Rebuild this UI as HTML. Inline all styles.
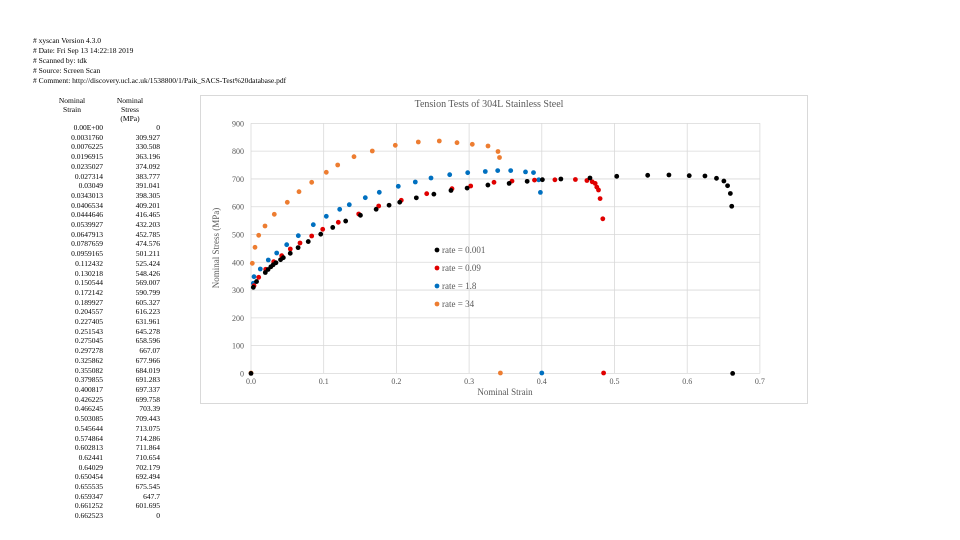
<!DOCTYPE html>
<html><head><meta charset="utf-8"><style>
body{margin:0;width:960px;height:540px;background:#fff;overflow:hidden;position:relative;font-family:"Liberation Serif",serif;}
.h{position:absolute;left:33px;font-size:7.5px;color:#000;line-height:10px;}
.c{position:absolute;font-size:7.5px;line-height:9.7px;color:#000;text-align:right;overflow:hidden;white-space:nowrap;}
.hd{position:absolute;font-size:7.5px;line-height:9px;text-align:center;}
</style></head><body>
<div class="h" style="top:36px">
# xyscan Version 4.3.0<br># Date: Fri Sep 13 14:22:18 2019<br># Scanned by: tdk<br># Source: Screen Scan<br># Comment: http://discovery.ucl.ac.uk/1538800/1/Paik_SACS-Test%20database.pdf
</div>
<div class="hd" style="left:42px;top:96px;width:60px">Nominal<br>Strain</div>
<div class="hd" style="left:100px;top:96px;width:60px">Nominal<br>Stress<br>(MPa)</div>
<div class="c" id="c1" style="left:40px;top:123px;width:63px"></div>
<div class="c" id="c2" style="left:104px;top:123px;width:56px"></div>
<svg id="s" width="960" height="540" style="position:absolute;left:0;top:0" font-family="Liberation Serif, serif"></svg>
<script>
var S=[0,0.00317604,0.0076225,0.0196915,0.0235027,0.027314,0.03049,0.0343013,0.0406534,0.0444646,0.0539927,0.0647913,0.0787659,0.0959165,0.112432,0.130218,0.150544,0.172142,0.189927,0.204557,0.227405,0.251543,0.275045,0.297278,0.325862,0.355082,0.379855,0.400817,0.426225,0.466245,0.503085,0.545644,0.574864,0.602813,0.62441,0.64029,0.650454,0.655535,0.659347,0.661252,0.662523];
var T=[0,309.927,330.508,363.196,374.092,383.777,391.041,398.305,409.201,416.465,432.203,452.785,474.576,501.211,525.424,548.426,569.007,590.799,605.327,616.223,631.961,645.278,658.596,667.07,677.966,684.019,691.283,697.337,699.758,703.39,709.443,713.075,714.286,711.864,710.654,702.179,692.494,675.545,647.7,601.695,0];
var a=[],b=[];
for(var i=0;i<S.length;i++){var s=i==0?"0.00E+00":String(S[i]);if(s.length>9)s=s.slice(0,9);a.push(s);var t=String(T[i]);if(t.length>7)t=t.slice(0,7);b.push(t);}
document.getElementById('c1').innerHTML=a.join('<br>');
document.getElementById('c2').innerHTML=b.join('<br>');
var h='';
h+='<rect x="200.5" y="95.5" width="607" height="308" fill="#fff" stroke="#d9d9d9"/>';
function X(v){return 251+727*v;} function Y(v){return 373.4-0.2778*v;}
for(var k=0;k<=9;k++){var y=Y(k*100);h+='<line x1="251" x2="760" y1="'+y+'" y2="'+y+'" stroke="#d9d9d9" stroke-width="0.8"/>';h+='<text x="244" y="'+(y+3)+'" font-size="8" fill="#595959" text-anchor="end">'+(k*100)+'</text>';}
for(var k=0;k<=7;k++){var x=X(k/10);h+='<line x1="'+x+'" x2="'+x+'" y1="123.2" y2="373.4" stroke="#d9d9d9" stroke-width="0.8"/>';h+='<text x="'+x+'" y="384" font-size="8" fill="#595959" text-anchor="middle">'+(k/10).toFixed(1)+'</text>';}
h+='<text x="489" y="107" font-size="10" fill="#595959" text-anchor="middle">Tension Tests of 304L Stainless Steel</text>';
h+='<text x="505" y="395" font-size="9" fill="#595959" text-anchor="middle">Nominal Strain</text>';
h+='<text transform="translate(219,248) rotate(-90)" font-size="9" fill="#595959" text-anchor="middle">Nominal Stress (MPa)</text>';
function dots(pts,col){var r='';for(var i=0;i<pts.length;i+=2)r+='<circle cx="'+pts[i]+'" cy="'+pts[i+1]+'" r="2.4" fill="'+col+'"/>';return r;}
var O=[251,373,252.3,263.3,255,247.3,258.7,235.3,265,226,274.3,214.3,287.3,202.3,299,191.7,311.7,182.3,326.3,172.3,337.7,165,354,156.7,372.3,151,395.3,145.3,418.3,142,439.3,141,457,142.7,472.3,144.3,488,146,498,151.5,499.5,157.5,500.4,373];
var B=[253.3,283.3,254,276.7,260.3,269,268.3,260,276.7,253,286.7,244.7,298.3,235.7,313.3,224.7,326.3,216.3,339.7,209.3,349.3,204.7,365.3,197.7,379.3,192.3,398.3,186.3,415.3,182,431,178,449.7,174.7,467.7,172.7,485.3,171.5,497.7,170.6,510.7,170.6,525.5,171.9,533.5,172.6,538.7,179.8,540.4,192.4,541.8,373];
var R=[254,285.7,258.7,277.3,265.7,269.3,273.7,261.7,281.7,255.7,290.3,249,300,243,311.7,236,322.7,229.3,338.3,222.3,358.7,214,378.7,206,401.3,200.3,426.7,193.7,452,188.7,470.7,186,494,182.3,512,181.1,534.5,180.1,554.9,179.8,575.4,179.5,586.9,180.5,592.2,181.8,595.2,183.4,596.8,187.1,598.5,190,600.1,198.6,602.8,218.8,603.6,373];
var K=[];for(var i=0;i<S.length;i++){K.push(X(S[i]),Y(T[i]));}
h+=dots(O,'#ed7d31')+dots(B,'#0070c0')+dots(R,'#e00000')+dots(K,'#000');
var L=[['rate = 0.001','#000'],['rate = 0.09','#e00000'],['rate = 1.8','#0070c0'],['rate = 34','#ed7d31']];
for(var i=0;i<4;i++){var y=250+18*i;h+='<circle cx="437" cy="'+y+'" r="2.4" fill="'+L[i][1]+'"/><text x="442" y="'+(y+3)+'" font-size="9" fill="#595959" xml:space="preserve">'+L[i][0]+'</text>';}
document.getElementById('s').innerHTML=h;
</script>
</body></html>
